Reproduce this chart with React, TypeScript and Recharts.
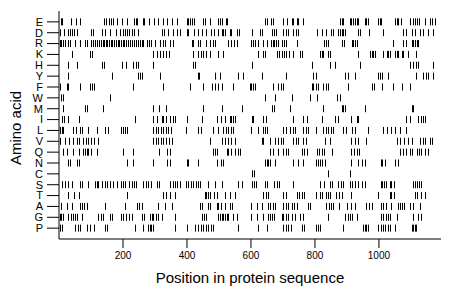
import { ScatterChart, Scatter, XAxis, YAxis } from 'recharts'

// rows top to bottom
const aminoAcids = ['E', 'D', 'R', 'K', 'H', 'Y', 'F', 'W', 'M', 'I', 'L', 'V', 'Q', 'N', 'C', 'S', 'T', 'A', 'G', 'P']

// residue positions (approximate)
const posE = [6, 10, 37, 52, 66, 142, 147, 157, 162, 168, 180, 196, 211, 234, 240, 245, 261, 267, 282, 297, 311, 324, 338, 352, 368, 399, 404, 409, 417, 422, 451, 456, 472, 498, 503, 508, 521, 526, 644, 649, 663, 668, 701, 713, 727, 732, 743, 748, 764, 878, 883, 888, 909, 914, 920, 925, 930, 935, 956, 961, 966, 998, 1003, 1008, 1050, 1055, 1060, 1068, 1097, 1105, 1112, 1120, 1126, 1144, 1159, 1167, 1176]
const posD = [3, 17, 27, 34, 42, 48, 55, 100, 107, 133, 144, 159, 177, 190, 201, 206, 214, 220, 227, 234, 248, 321, 328, 342, 355, 368, 378, 399, 404, 423, 435, 448, 461, 475, 485, 496, 508, 513, 519, 534, 539, 555, 562, 602, 628, 633, 665, 672, 678, 701, 709, 717, 732, 741, 748, 805, 821, 836, 850, 855, 873, 878, 883, 888, 894, 935, 940, 968, 1013, 1076, 1086, 1102, 1112, 1128, 1138, 1154, 1170]
const posR = [3, 7, 11, 18, 27, 33, 50, 66, 80, 86, 100, 107, 114, 120, 126, 131, 136, 141, 146, 151, 157, 162, 167, 172, 177, 183, 188, 193, 199, 204, 209, 216, 221, 227, 234, 240, 248, 253, 258, 263, 274, 282, 289, 300, 315, 324, 331, 347, 355, 415, 420, 435, 440, 458, 472, 482, 489, 529, 539, 548, 555, 600, 605, 613, 623, 637, 649, 662, 668, 672, 678, 685, 696, 703, 709, 743, 829, 834, 840, 883, 892, 915, 920, 925, 930, 1045, 1076, 1084, 1102, 1107, 1112, 1118, 1123]
const posK = [40, 97, 104, 295, 307, 315, 324, 336, 345, 420, 433, 444, 451, 458, 472, 498, 513, 623, 639, 644, 680, 689, 696, 703, 711, 720, 732, 753, 761, 816, 821, 826, 842, 847, 935, 972, 977, 982, 987, 1013, 1024, 1029, 1034, 1050, 1055, 1060, 1071, 1076, 1091, 1117]
const posH = [29, 55, 133, 141, 196, 209, 230, 241, 248, 295, 420, 425, 602, 790, 847, 862, 940, 1097, 1107, 1115, 1123, 1170]
const posY = [29, 165, 248, 253, 258, 315, 435, 438, 487, 503, 560, 576, 633, 711, 795, 803, 894, 904, 925, 998, 1003, 1011, 1029, 1117, 1138, 1147, 1154, 1170]
const posF = [2, 24, 29, 66, 97, 104, 110, 232, 326, 409, 451, 477, 487, 498, 508, 545, 597, 600, 607, 612, 670, 685, 693, 701, 790, 795, 803, 808, 826, 833, 842, 904, 977, 985, 1011, 1045, 1071, 1097]
const posW = [6, 13, 159, 644, 675, 727, 784, 805, 868, 878]
const posM = [14, 81, 86, 138, 295, 313, 334, 451, 508, 571, 665, 672, 722, 826, 883, 888, 894, 956, 1102, 1107]
const posI = [8, 17, 27, 62, 237, 295, 307, 321, 326, 336, 347, 357, 362, 399, 448, 493, 506, 519, 534, 539, 545, 550, 602, 607, 639, 647, 732, 763, 774, 821, 862, 873, 914, 930, 935, 1086, 1097, 1123, 1133, 1138, 1144]
const posL = [3, 8, 14, 45, 52, 66, 71, 92, 118, 144, 152, 194, 201, 206, 211, 295, 303, 310, 318, 326, 334, 341, 349, 397, 435, 444, 482, 498, 513, 521, 529, 537, 545, 600, 623, 639, 644, 651, 701, 709, 722, 730, 737, 763, 772, 779, 803, 826, 833, 842, 850, 857, 888, 896, 917, 925, 966, 1013, 1024, 1039, 1050, 1065, 1086]
const posV = [2, 19, 31, 45, 55, 62, 76, 83, 92, 100, 110, 121, 295, 303, 310, 318, 326, 336, 345, 352, 472, 508, 519, 529, 539, 550, 633, 638, 661, 675, 685, 693, 701, 732, 741, 748, 763, 772, 831, 847, 914, 925, 935, 961, 1055, 1065, 1078, 1091, 1102, 1128, 1138, 1144, 1159, 1167]
const posQ = [14, 24, 45, 62, 76, 81, 86, 92, 100, 118, 201, 232, 313, 338, 347, 482, 487, 493, 524, 529, 539, 550, 558, 565, 659, 668, 685, 701, 709, 717, 758, 766, 774, 805, 812, 821, 829, 852, 914, 923, 930, 937, 1065, 1074, 1086, 1097, 1102, 1118, 1126, 1133, 1144, 1154]
const posN = [29, 35, 55, 62, 211, 232, 295, 338, 347, 399, 404, 435, 493, 506, 513, 644, 649, 654, 661, 675, 732, 748, 763, 803, 808, 816, 823, 831, 914, 935, 946, 956, 1006, 1011, 1019, 1050, 1060]
const posC = [602, 608, 842, 909]
const posS = [8, 19, 27, 40, 66, 73, 92, 113, 118, 123, 133, 144, 149, 159, 170, 180, 194, 199, 206, 220, 227, 234, 241, 264, 272, 279, 286, 305, 313, 347, 355, 362, 370, 378, 397, 404, 412, 420, 427, 433, 441, 466, 487, 510, 560, 571, 602, 609, 616, 644, 651, 672, 680, 688, 732, 816, 829, 847, 854, 871, 881, 888, 909, 917, 925, 935, 946, 956, 1006, 1011, 1017, 1022, 1034, 1039, 1047, 1107, 1112, 1120, 1126, 1133]
const posT = [29, 48, 62, 211, 326, 334, 347, 362, 456, 461, 467, 472, 485, 493, 519, 534, 550, 638, 647, 654, 701, 709, 743, 751, 758, 766, 803, 816, 823, 836, 842, 847, 865, 875, 883, 914, 996, 1034, 1039, 1047, 1112, 1120, 1133, 1144]
const posA = [6, 24, 42, 66, 71, 79, 86, 144, 206, 243, 251, 258, 310, 331, 352, 441, 448, 465, 472, 493, 498, 506, 519, 534, 542, 600, 618, 633, 654, 661, 668, 675, 701, 709, 717, 727, 734, 743, 779, 786, 836, 844, 850, 857, 875, 899, 914, 925, 961, 969, 977, 1006, 1013, 1022, 1039, 1060, 1065, 1071, 1078, 1097, 1105, 1128]
const posG = [3, 6, 12, 29, 37, 45, 50, 55, 71, 123, 131, 138, 159, 167, 194, 199, 209, 220, 227, 258, 265, 284, 290, 295, 303, 310, 321, 362, 446, 454, 461, 498, 503, 508, 513, 519, 524, 529, 545, 555, 600, 618, 637, 654, 659, 665, 672, 696, 701, 709, 717, 727, 737, 753, 763, 842, 894, 902, 909, 917, 930, 1006, 1013, 1022, 1029, 1036, 1055, 1107, 1123, 1133]
const posP = [3, 10, 50, 58, 66, 86, 97, 110, 144, 149, 237, 263, 279, 284, 289, 295, 362, 399, 425, 435, 444, 451, 458, 467, 475, 482, 560, 623, 649, 701, 709, 717, 724, 758, 766, 803, 808, 816, 888, 951, 956, 961, 966, 998, 1006, 1013, 1019, 1029, 1034, 1050, 1102, 1107, 1112, 1117]

const xTicks = [200, 400, 600, 800, 1000]
const seqLength = 1194

const positions: Record<string, number[]> = {
  E: posE, D: posD, R: posR, K: posK, H: posH, Y: posY, F: posF, W: posW, M: posM, I: posI,
  L: posL, V: posV, Q: posQ, N: posN, C: posC, S: posS, T: posT, A: posA, G: posG, P: posP,
}

const rows = aminoAcids.map((aa, i) => ({
  aa,
  points: positions[aa].map((p) => ({ pos: p, row: i })),
}))

const font = '"Liberation Sans", Arial, Helvetica, sans-serif'

function TickMark(props: any) {
  const { cx, cy } = props
  if (cx == null || cy == null) return null
  const x = Math.round(cx) + 0.5
  return <line x1={x} x2={x} y1={cy - 3.5} y2={cy + 3.5} stroke="#000" strokeWidth={1} />
}

function YTitle(props: any) {
  const vb = props.viewBox || { x: 0, y: 0, height: 0 }
  const x = vb.x + 15
  const y = vb.y + vb.height / 2 + 3
  return (
    <text x={x} y={y} transform={`rotate(-90 ${x} ${y})`} textAnchor="middle" dominantBaseline="central"
      fontSize={15} fill="#000" fontFamily={font}>
      Amino acid
    </text>
  )
}

export default function App() {
  return (
    <div style={{ width: 460, height: 299, background: '#fff' }}>
      <style>{'body{margin:0}'}</style>
      <ScatterChart width={460} height={299} margin={{ top: 11, right: 19, bottom: 0, left: 0 }}
        style={{ fontFamily: font }}>
        <XAxis
          dataKey="pos"
          type="number"
          domain={[0, seqLength]}
          ticks={xTicks}
          interval={0}
          height={60}
          tickSize={9}
          tickMargin={4}
          stroke="#000"
          tick={{ fill: '#000', fontSize: 10 }}
          label={{ value: 'Position in protein sequence', position: 'insideBottom', offset: 16, fontSize: 15, fill: '#000' }}
          allowDataOverflow
        />
        <YAxis
          dataKey="row"
          type="number"
          domain={[-1, 20]}
          ticks={aminoAcids.map((_, i) => i)}
          interval={0}
          reversed
          width={59}
          tickSize={12}
          tickMargin={4}
          stroke="#000"
          tick={{ fill: '#000', fontSize: 11 }}
          tickFormatter={(v: number) => aminoAcids[v] ?? ''}
          label={<YTitle />}
        />
        {rows.map((r) => (
          <Scatter key={r.aa} name={r.aa} data={r.points} shape={TickMark} isAnimationActive={false} />
        ))}
      </ScatterChart>
    </div>
  )
}
